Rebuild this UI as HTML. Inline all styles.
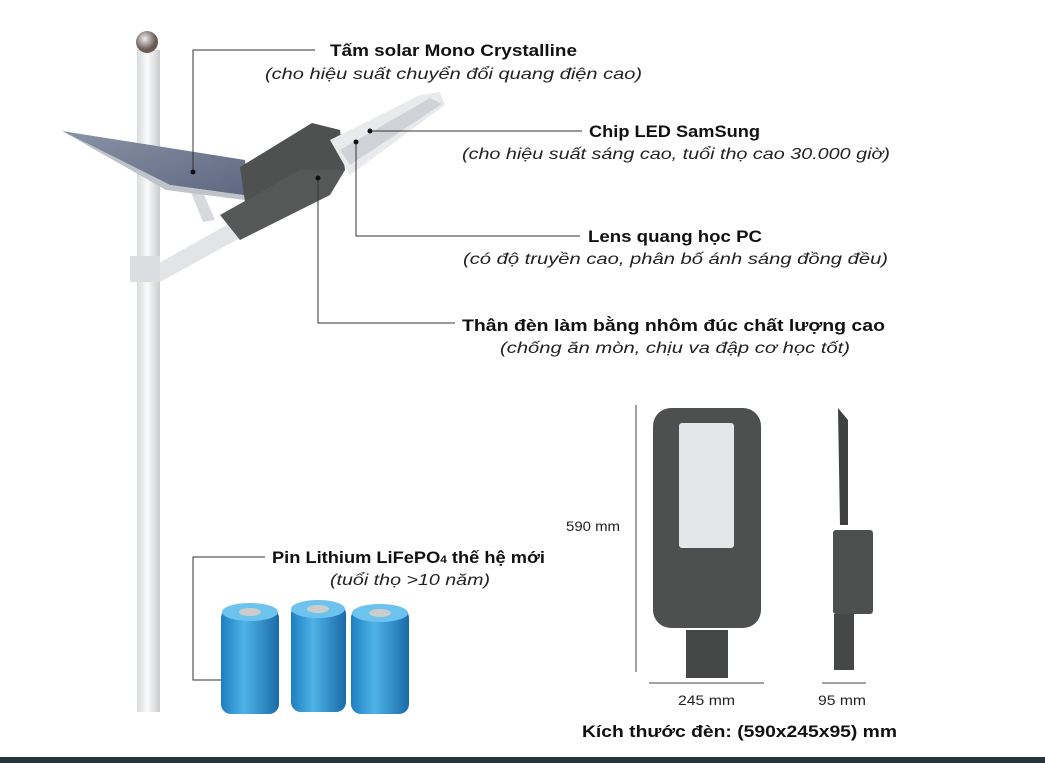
<!DOCTYPE html>
<html><head><meta charset="utf-8"><style>
html,body{margin:0;padding:0;background:#fff;}
body{width:1045px;height:763px;overflow:hidden;position:relative;font-family:"Liberation Sans","DejaVu Sans",sans-serif;color:#111;}
svg{position:absolute;left:0;top:0;}
.t{font-family:"Liberation Sans","DejaVu Sans",sans-serif;}
</style></head><body>
<svg width="1045" height="763" viewBox="0 0 1045 763">
<defs>
<linearGradient id="pole" x1="0" x2="1"><stop offset="0" stop-color="#d8dadc"/><stop offset=".45" stop-color="#fbfbfb"/><stop offset="1" stop-color="#c9cbcd"/></linearGradient>
<linearGradient id="pan" x1="0" y1="0" x2="1" y2="1"><stop offset="0" stop-color="#8a93a6"/><stop offset="1" stop-color="#5d6780"/></linearGradient>
<linearGradient id="bat" x1="0" x2="1"><stop offset="0" stop-color="#1d7fc0"/><stop offset=".4" stop-color="#4fb3e8"/><stop offset="1" stop-color="#1a6aa8"/></linearGradient>
<radialGradient id="ball" cx=".4" cy=".35"><stop offset="0" stop-color="#eee"/><stop offset="1" stop-color="#6a5a55"/></radialGradient>
</defs>
<rect x="137" y="50" width="23" height="662" fill="url(#pole)"/>
<circle cx="147" cy="42" r="11" fill="url(#ball)"/>
<polygon points="150,268 232,222 240,238 160,282" fill="#e3e4e6"/>
<rect x="130" y="256" width="30" height="26" fill="#dcdde0"/>
<polygon points="190,190 202,190 215,220 203,222" fill="#d8d9dc"/>
<polygon points="62,131 245,160 250,196 170,185" fill="url(#pan)"/>
<polygon points="62,131 170,185 250,196 245,200 166,190" fill="#bfc2c8"/>
<polygon points="240,167 312,123 340,130 345,170 280,215 245,202" fill="#4e5150"/>
<polygon points="220,215 300,170 345,170 330,195 240,240" fill="#555857"/>
<polygon points="330,140 420,95 440,92 445,105 350,175" fill="#e9eaec"/>
<polygon points="340,150 430,98 442,104 350,165" fill="#cfd2d6"/>
<g stroke="#333" stroke-width="1" fill="none">
<polyline points="193,172 193,50 315,50"/>
<polyline points="370,131 582,131"/>
<polyline points="356,142 356,236 580,236"/>
<polyline points="318,178 318,323 455,323"/>
<polyline points="245,680 193,680 193,557 265,557"/>
</g>
<g fill="#111"><circle cx="193" cy="172" r="2.5"/><circle cx="370" cy="131" r="2.5"/><circle cx="356" cy="142" r="2.5"/><circle cx="318" cy="178" r="2.5"/><circle cx="245" cy="680" r="2.5"/></g>
<g class="t" font-size="17" font-weight="bold" fill="#111">
<text x="330" y="56" textLength="247" lengthAdjust="spacingAndGlyphs">Tấm solar Mono Crystalline</text>
<text x="589" y="137" textLength="171" lengthAdjust="spacingAndGlyphs">Chip LED SamSung</text>
<text x="588" y="242" textLength="174" lengthAdjust="spacingAndGlyphs">Lens quang học PC</text>
<text x="462" y="331" textLength="423" lengthAdjust="spacingAndGlyphs">Thân đèn làm bằng nhôm đúc chất lượng cao</text>
<text x="272" y="563" textLength="273" lengthAdjust="spacingAndGlyphs">Pin Lithium LiFePO<tspan font-size="11">4</tspan> thế hệ mới</text>
<text x="582" y="737" textLength="315" lengthAdjust="spacingAndGlyphs">Kích thước đèn: (590x245x95) mm</text>
</g>
<g class="t" font-size="16" font-style="italic" fill="#222">
<text x="265" y="79" textLength="377" lengthAdjust="spacingAndGlyphs">(cho hiệu suất chuyển đổi quang điện cao)</text>
<text x="462" y="159" textLength="428" lengthAdjust="spacingAndGlyphs">(cho hiệu suất sáng cao, tuổi thọ cao 30.000 giờ)</text>
<text x="463" y="264" textLength="425" lengthAdjust="spacingAndGlyphs">(có độ truyền cao, phân bố ánh sáng đồng đều)</text>
<text x="500" y="353" textLength="350" lengthAdjust="spacingAndGlyphs">(chống ăn mòn, chịu va đập cơ học tốt)</text>
<text x="330" y="585" textLength="160" lengthAdjust="spacingAndGlyphs">(tuổi thọ &gt;10 năm)</text>
</g>
<g>
<rect x="221" y="608" width="58" height="106" rx="10" fill="url(#bat)"/>
<ellipse cx="250" cy="612" rx="28" ry="9" fill="#6cc3ee"/><ellipse cx="250" cy="612" rx="11" ry="4" fill="#ccc"/>
<rect x="291" y="604" width="55" height="108" rx="10" fill="url(#bat)"/>
<ellipse cx="318" cy="609" rx="27" ry="9" fill="#6cc3ee"/><ellipse cx="318" cy="609" rx="11" ry="4" fill="#ccc"/>
<rect x="351" y="608" width="58" height="106" rx="10" fill="url(#bat)"/>
<ellipse cx="380" cy="613" rx="28" ry="9" fill="#6cc3ee"/><ellipse cx="380" cy="613" rx="11" ry="4" fill="#ccc"/>
</g>
<line x1="636" y1="405" x2="636" y2="672" stroke="#444"/>
<rect x="653" y="408" width="108" height="220" rx="18" fill="#4d504f"/>
<rect x="679" y="423" width="55" height="125" rx="3" fill="#e4e6ea"/>
<rect x="686" y="630" width="42" height="48" fill="#454847"/>
<line x1="649" y1="683" x2="764" y2="683" stroke="#444"/>
<polygon points="838,408 848,420 848,525 840,525" fill="#3e4140"/>
<rect x="833" y="530" width="40" height="84" rx="3" fill="#4d504f"/>
<rect x="834" y="614" width="20" height="56" fill="#454847"/>
<line x1="822" y1="683" x2="866" y2="683" stroke="#444"/>
<g class="t" font-size="14" fill="#222">
<text x="566" y="531" textLength="54" lengthAdjust="spacingAndGlyphs">590 mm</text>
<text x="678" y="705" textLength="57" lengthAdjust="spacingAndGlyphs">245 mm</text>
<text x="818" y="705" textLength="48" lengthAdjust="spacingAndGlyphs">95 mm</text>
</g>
<rect x="0" y="757" width="1045" height="6" fill="#24363a"/>
</svg>
</body></html>
